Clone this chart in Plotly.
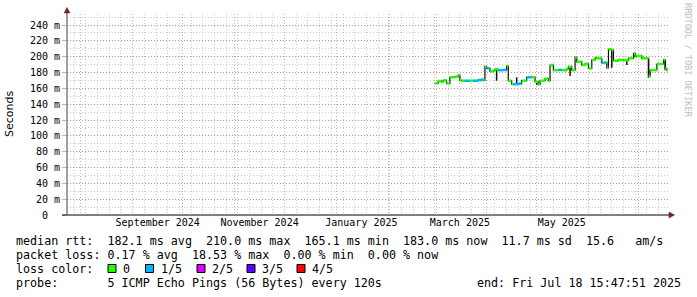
import plotly.graph_objects as go

# ---------------- data ----------------
END = "2025-07-18 15:47:51"
START = "2024-07-23 15:47:51"

sample_dates = [
    "2025-03-01", "2025-03-03", "2025-03-05", "2025-03-06", "2025-03-08", "2025-03-10",
    "2025-03-13", "2025-03-15", "2025-03-16", "2025-03-17", "2025-03-19", "2025-03-22",
    "2025-03-24", "2025-03-27", "2025-03-29", "2025-03-30", "2025-03-31", "2025-04-01",
    "2025-04-03", "2025-04-05", "2025-04-06", "2025-04-08", "2025-04-11", "2025-04-13",
    "2025-04-14", "2025-04-16", "2025-04-17", "2025-04-20", "2025-04-22", "2025-04-25",
    "2025-04-28", "2025-04-30", "2025-05-02", "2025-05-03", "2025-05-06", "2025-05-08",
    "2025-05-09", "2025-05-11", "2025-05-14", "2025-05-16", "2025-05-19", "2025-05-20",
    "2025-05-22", "2025-05-24", "2025-05-25", "2025-05-28", "2025-05-30", "2025-06-01",
    "2025-06-03", "2025-06-05", "2025-06-06", "2025-06-09", "2025-06-11", "2025-06-12",
    "2025-06-13", "2025-06-15", "2025-06-16", "2025-06-19", "2025-06-22", "2025-06-25",
    "2025-06-28", "2025-06-29", "2025-06-30", "2025-07-03", "2025-07-07", "2025-07-08",
    "2025-07-12", "2025-07-16", "2025-07-17", "2025-07-18",
]
median_ms = [
    166.4, 169.3, 168.2, 170.0, 166.2, 174.0,
    174.8, 176.9, 170.2, 169.7, 169.6, 169.8,
    169.7, 170.6, 171.2, 170.2, 187.4, 185.3,
    181.6, 182.5, 184.2, 183.0, 183.3, 188.3,
    169.7, 165.5, 165.3, 166.0, 169.7, 174.0,
    174.2, 168.4, 165.1, 169.7, 172.3, 169.8,
    189.5, 183.0, 183.4, 183.0, 184.5, 187.4,
    183.0, 199.2, 193.7, 189.5, 191.0, 185.3,
    196.0, 199.0, 198.0, 192.4, 192.8, 186.0,
    209.3, 208.5, 195.0, 196.0, 195.5, 198.0,
    204.3, 200.0, 201.0, 198.0, 175.6, 183.0,
    190.8, 196.0, 185.3, 183.0,
]
loss_cat = [
    0, 0, 0, 0, 0, 0,
    0, 0, 0, 0, 1, 0,
    1, 1, 1, 0, 0, 1,
    0, 0, 0, 1, 1, 0,
    0, 0, 1, 1, 0, 1,
    0, 0, 0, 0, 0, 0,
    0, 0, 1, 0, 0, 0,
    0, 0, 0, 0, 0, 0,
    0, 0, 0, 1, 0, 0,
    0, 0, 0, 0, 0, 0,
    0, 0, 0, 0, 0, 0,
    0, 0, 0, 0,
]
spike_dates = ["2025-04-07", "2025-04-19", "2025-05-01", "2025-05-21", "2025-06-15",
               "2025-06-24", "2025-07-07", "2025-07-17"]
spike_from = [183.5, 165.5, 168.4, 187.4, 208.5, 195.5, 198.0, 196.0]
spike_to = [169.7, 174.0, 164.5, 175.6, 186.0, 189.5, 173.5, 183.0]

loss_labels = ["0", "1/5", "2/5", "3/5", "4/5"]
loss_colors = ["#26ff00", "#00b8ff", "#dd00ff", "#5e00ff", "#ff0000"]

y_tickvals = list(range(0, 241, 20))
y_ticktext = ["0\u00a0\u00a0"] + [f"{v} m" for v in y_tickvals[1:]]
x_label_dates = ["2024-09-16", "2024-11-16", "2025-01-16", "2025-03-16", "2025-05-16"]
x_label_text = ["September 2024", "November 2024", "January 2025", "March 2025", "May 2025"]

line_rtt = "median rtt:  182.1 ms avg  210.0 ms max  165.1 ms min  183.0 ms now  11.7 ms sd  15.6   am/s"
line_loss = "packet loss: 0.17 % avg  18.53 % max  0.00 % min  0.00 % now"
line_color = "loss color:"
line_probe = "probe:       5 ICMP Echo Pings (56 Bytes) every 120s"
line_end = "end: Fri Jul 18 15:47:51 2025"
watermark = "RRDTOOL / TOBI OETIKER"

# ---------------- layout geometry (pixels) ----------------
W, H = 697, 297
PL, PR, PT, PB = 67, 668, 14, 215
MONO = "DejaVu Sans Mono"
MGRID = "rgba(222,80,80,0.55)"
GRID = "rgba(160,160,160,0.55)"


def px_x(px):
    return (px - PL) / (PR - PL)


def px_y(py):
    return (PB - py) / (PB - PT)


def nb(s):
    return s.replace(" ", "\u00a0")


fig = go.Figure()

# black median step line (shows vertical transitions)
fig.add_trace(go.Scatter(
    x=sample_dates + [END], y=median_ms + [median_ms[-1]],
    mode="lines", line=dict(color="#111111", width=1.2, shape="hv"),
    hoverinfo="skip", showlegend=False))

# black spikes
sx, sy = [], []
for d, a, b in zip(spike_dates, spike_from, spike_to):
    sx += [d, d, None]
    sy += [a, b, None]
fig.add_trace(go.Scatter(x=sx, y=sy, mode="lines",
                         line=dict(color="#111111", width=1.5),
                         hoverinfo="skip", showlegend=False))

# loss-colored horizontal segments
ends = sample_dates[1:] + [END]
for c, col in enumerate(loss_colors):
    xs, ys = [], []
    for d0, d1, v, lc in zip(sample_dates, ends, median_ms, loss_cat):
        if lc == c:
            xs += [d0, d1, None]
            ys += [v, v, None]
    if xs:
        fig.add_trace(go.Scatter(x=xs, y=ys, mode="lines",
                                 line=dict(color=col, width=2.6),
                                 hoverinfo="skip", showlegend=False))

# dummy trace for label axis
fig.add_trace(go.Scatter(x=[START, END], y=[0, 0], xaxis="x2", mode="markers",
                         marker=dict(opacity=0), hoverinfo="skip", showlegend=False))

shapes = []
# axes lines
shapes.append(dict(type="line", xref="paper", yref="paper",
                   x0=px_x(67), x1=px_x(67), y0=0, y1=px_y(10),
                   line=dict(color="#404040", width=1)))
shapes.append(dict(type="line", xref="paper", yref="paper",
                   x0=px_x(62), x1=px_x(670), y0=0, y1=0,
                   line=dict(color="#000000", width=1)))
# arrows
shapes.append(dict(type="path", xref="paper", yref="paper",
                   path=f"M {px_x(64)} {px_y(13)} L {px_x(67)} {px_y(7.5)} L {px_x(70)} {px_y(13)} Z",
                   fillcolor="#7f1f1f", line=dict(color="#7f1f1f", width=0.5)))
shapes.append(dict(type="path", xref="paper", yref="paper",
                   path=f"M {px_x(669)} {px_y(212)} L {px_x(674.5)} {px_y(215)} L {px_x(669)} {px_y(218)} Z",
                   fillcolor="#7f1f1f", line=dict(color="#7f1f1f", width=0.5)))

annotations = []


def add_text(txt, x, y, size=11.7, anchor="left", color="#000000", angle=0, font=MONO):
    annotations.append(dict(text=nb(txt), xref="paper", yref="paper",
                            x=px_x(x), y=px_y(y), xanchor=anchor, yanchor="middle",
                            showarrow=False, textangle=angle, borderpad=0,
                            font=dict(family=font, size=size, color=color)))


add_text(line_rtt, 15, 241)
add_text(line_loss, 15, 255)
add_text(line_color, 15, 269)
add_text(line_probe, 15, 283)
add_text(line_end, 476, 283)

box_x = [108, 145.5, 197, 247, 297]
for bx, lab, col in zip(box_x, loss_labels, loss_colors):
    shapes.append(dict(type="rect", xref="paper", yref="paper",
                       x0=px_x(bx), x1=px_x(bx + 8), y0=px_y(272.5), y1=px_y(264.5),
                       fillcolor=col, line=dict(color="#000000", width=1)))
    add_text(lab, bx + 14, 269)

add_text(watermark, 688, 60, size=8.6, anchor="center", color="#c0c0c0", angle=90)
add_text("Seconds", 10, 114, size=11, anchor="center", angle=-90, font="DejaVu Sans")

fig.update_layout(
    width=W, height=H,
    margin=dict(l=PL, r=W - PR, t=PT, b=H - PB, pad=0),
    paper_bgcolor="#ffffff", plot_bgcolor="#ffffff",
    showlegend=False,
    xaxis=dict(type="date", range=[START, END], tickmode="linear", tick0="2024-08-01",
               dtick="M1", showticklabels=False, ticks="", showgrid=True,
               gridcolor=MGRID, griddash="1px,2px", gridwidth=1, zeroline=False,
               showline=False,
               minor=dict(tickmode="linear", tick0="2024-07-28", dtick=7 * 86400000,
                          showgrid=True, gridcolor=GRID, griddash="1px,2px", gridwidth=1)),
    xaxis2=dict(type="date", overlaying="x", anchor="y", side="bottom", range=[START, END],
                tickmode="array", tickvals=x_label_dates, ticktext=x_label_text,
                showgrid=False, ticks="", zeroline=False, showline=False,
                tickfont=dict(family=MONO, size=10, color="#000000")),
    yaxis=dict(range=[0, 254], tickmode="array", tickvals=y_tickvals, ticktext=y_ticktext,
               showgrid=True, gridcolor=MGRID, griddash="1px,2px", gridwidth=1,
               zeroline=False, showline=False, ticks="outside", ticklen=4,
               tickcolor=MGRID, tickfont=dict(family=MONO, size=10, color="#000000"),
               minor=dict(tickmode="linear", tick0=0, dtick=10, showgrid=True,
                          gridcolor=GRID, griddash="1px,2px", gridwidth=1)),
    shapes=shapes,
    annotations=annotations,
)

fig.write_html("out.html")
